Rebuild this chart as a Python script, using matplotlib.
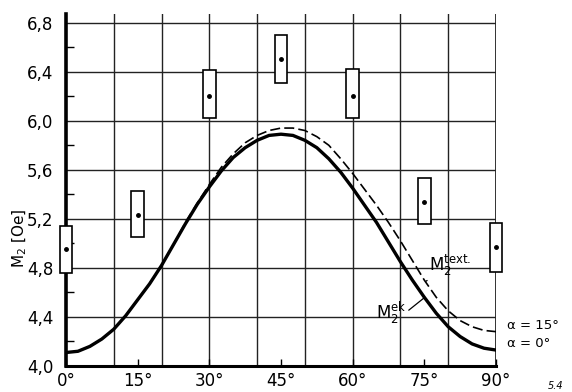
import matplotlib
matplotlib.use("Agg")
import matplotlib.pyplot as plt
from matplotlib.patches import Rectangle

# ---- data ----
angles = [0, 2.5, 5, 7.5, 10, 12.5, 15, 17.5, 20, 22.5, 25, 27.5, 30, 32.5, 35, 37.5,
          40, 42.5, 45, 47.5, 50, 52.5, 55, 57.5, 60, 62.5, 65, 67.5, 70, 72.5, 75,
          77.5, 80, 82.5, 85, 87.5, 90]
m_ek_alpha0 = [4.11, 4.12, 4.16, 4.22, 4.30, 4.41, 4.54, 4.67, 4.82, 4.99, 5.16, 5.32,
               5.46, 5.59, 5.70, 5.78, 5.84, 5.88, 5.89, 5.88, 5.84, 5.78, 5.69, 5.58,
               5.45, 5.31, 5.17, 5.01, 4.85, 4.70, 4.56, 4.43, 4.32, 4.24, 4.18, 4.145,
               4.13]
m_text_alpha15 = [4.11, 4.12, 4.16, 4.22, 4.30, 4.41, 4.54, 4.67, 4.82, 4.99, 5.17, 5.33,
                  5.48, 5.62, 5.73, 5.82, 5.88, 5.92, 5.94, 5.94, 5.92, 5.87, 5.80, 5.69,
                  5.57, 5.44, 5.31, 5.17, 5.02, 4.86, 4.70, 4.56, 4.45, 4.37, 4.32, 4.29,
                  4.28]

box_angles = [0, 15, 30, 45, 60, 75, 90]
box_mean = [4.95, 5.23, 6.20, 6.50, 6.20, 5.34, 4.97]
box_low = [4.76, 5.05, 6.02, 6.31, 6.02, 5.16, 4.77]
box_high = [5.14, 5.43, 6.41, 6.70, 6.42, 5.53, 5.17]

xtick_vals = [0, 15, 30, 45, 60, 75, 90]
xtick_labels = ["0°", "15°", "30°", "45°", "60°", "75°", "90°"]
ytick_vals = [4.0, 4.4, 4.8, 5.2, 5.6, 6.0, 6.4, 6.8]
ytick_labels = ["4,0", "4,4", "4,8", "5,2", "5,6", "6,0", "6,4", "6,8"]

plt.rcParams['font.family'] = ['DejaVu Sans']
plt.rcParams['mathtext.default'] = 'regular'

fig = plt.figure(figsize=(5.72, 3.92), dpi=100)
ax = fig.add_axes([66/572, 1-366/392, (496-66)/572, (366-14)/392])
ax.set_xlim(0, 90)
ax.set_ylim(4.0, 6.87)

# grid
for gx in range(10, 91, 10):
    ax.axvline(gx, color='#222222', lw=1.0 if gx < 90 else 1.3, zorder=1)
for gy in ytick_vals[1:]:
    ax.axhline(gy, color='#222222', lw=1.0, zorder=1)

# curves
ax.plot(angles, m_ek_alpha0, color='black', lw=2.4, zorder=3, solid_joinstyle='round')
ax.plot(angles, m_text_alpha15, color='black', lw=1.2, dashes=(6, 2.5), zorder=3)

# boxes
bw = 2.7
for a, m, lo, hi in zip(box_angles, box_mean, box_low, box_high):
    r = Rectangle((a - bw/2, lo), bw, hi - lo, facecolor='white', edgecolor='black',
                  lw=1.2, zorder=4, clip_on=False)
    ax.add_patch(r)
ax.plot(box_angles, box_mean, 'o', color='black', ms=2.5, zorder=5, clip_on=False)

# spines
for s in ['top', 'right']:
    ax.spines[s].set_visible(False)
ax.spines['left'].set_linewidth(2.6)
ax.spines['bottom'].set_linewidth(2.2)

ax.set_xticks(xtick_vals)
ax.set_xticklabels(xtick_labels, fontsize=12)
ax.set_yticks(ytick_vals)
ax.set_yticklabels(ytick_labels, fontsize=12)
ax.set_yticks([4.2, 4.6, 5.0, 5.4, 5.8, 6.2, 6.6], minor=True)
ax.tick_params(axis='x', direction='in', length=5, width=1, pad=4)
ax.tick_params(axis='y', which='major', direction='in', length=0, pad=9)
ax.tick_params(axis='y', which='minor', direction='in', length=6, width=1)

# annotations
ax.annotate(r"$\mathrm{M}_2^{\mathrm{text.}}$", xy=(75.3, 4.69), xytext=(76.0, 4.72),
            fontsize=12, ha='left', va='bottom',
            arrowprops=dict(arrowstyle='-', color='black', lw=0.9, shrinkA=0, shrinkB=0))
ax.annotate(r"$\mathrm{M}_2^{\mathrm{ek}}$", xy=(75.1, 4.56), xytext=(64.8, 4.33),
            fontsize=12, ha='left', va='bottom',
            arrowprops=dict(arrowstyle='-', color='black', lw=0.9, shrinkA=0, shrinkB=0,
                            relpos=(1, 0.5)))
ax.text(92.2, 4.33, "α = 15°", fontsize=9.5, ha='left', va='center')
ax.text(92.2, 4.18, "α = 0°", fontsize=9.5, ha='left', va='center')

fig.text(20/572, 1-238/392, r"$\mathrm{M}_2$ [Oe]", rotation=90, fontsize=11,
         ha='center', va='center')
fig.text(548/572, 1-386/392, "5.4", fontsize=7, style='italic', ha='left', va='center')

fig.savefig("out.png", dpi=100)
